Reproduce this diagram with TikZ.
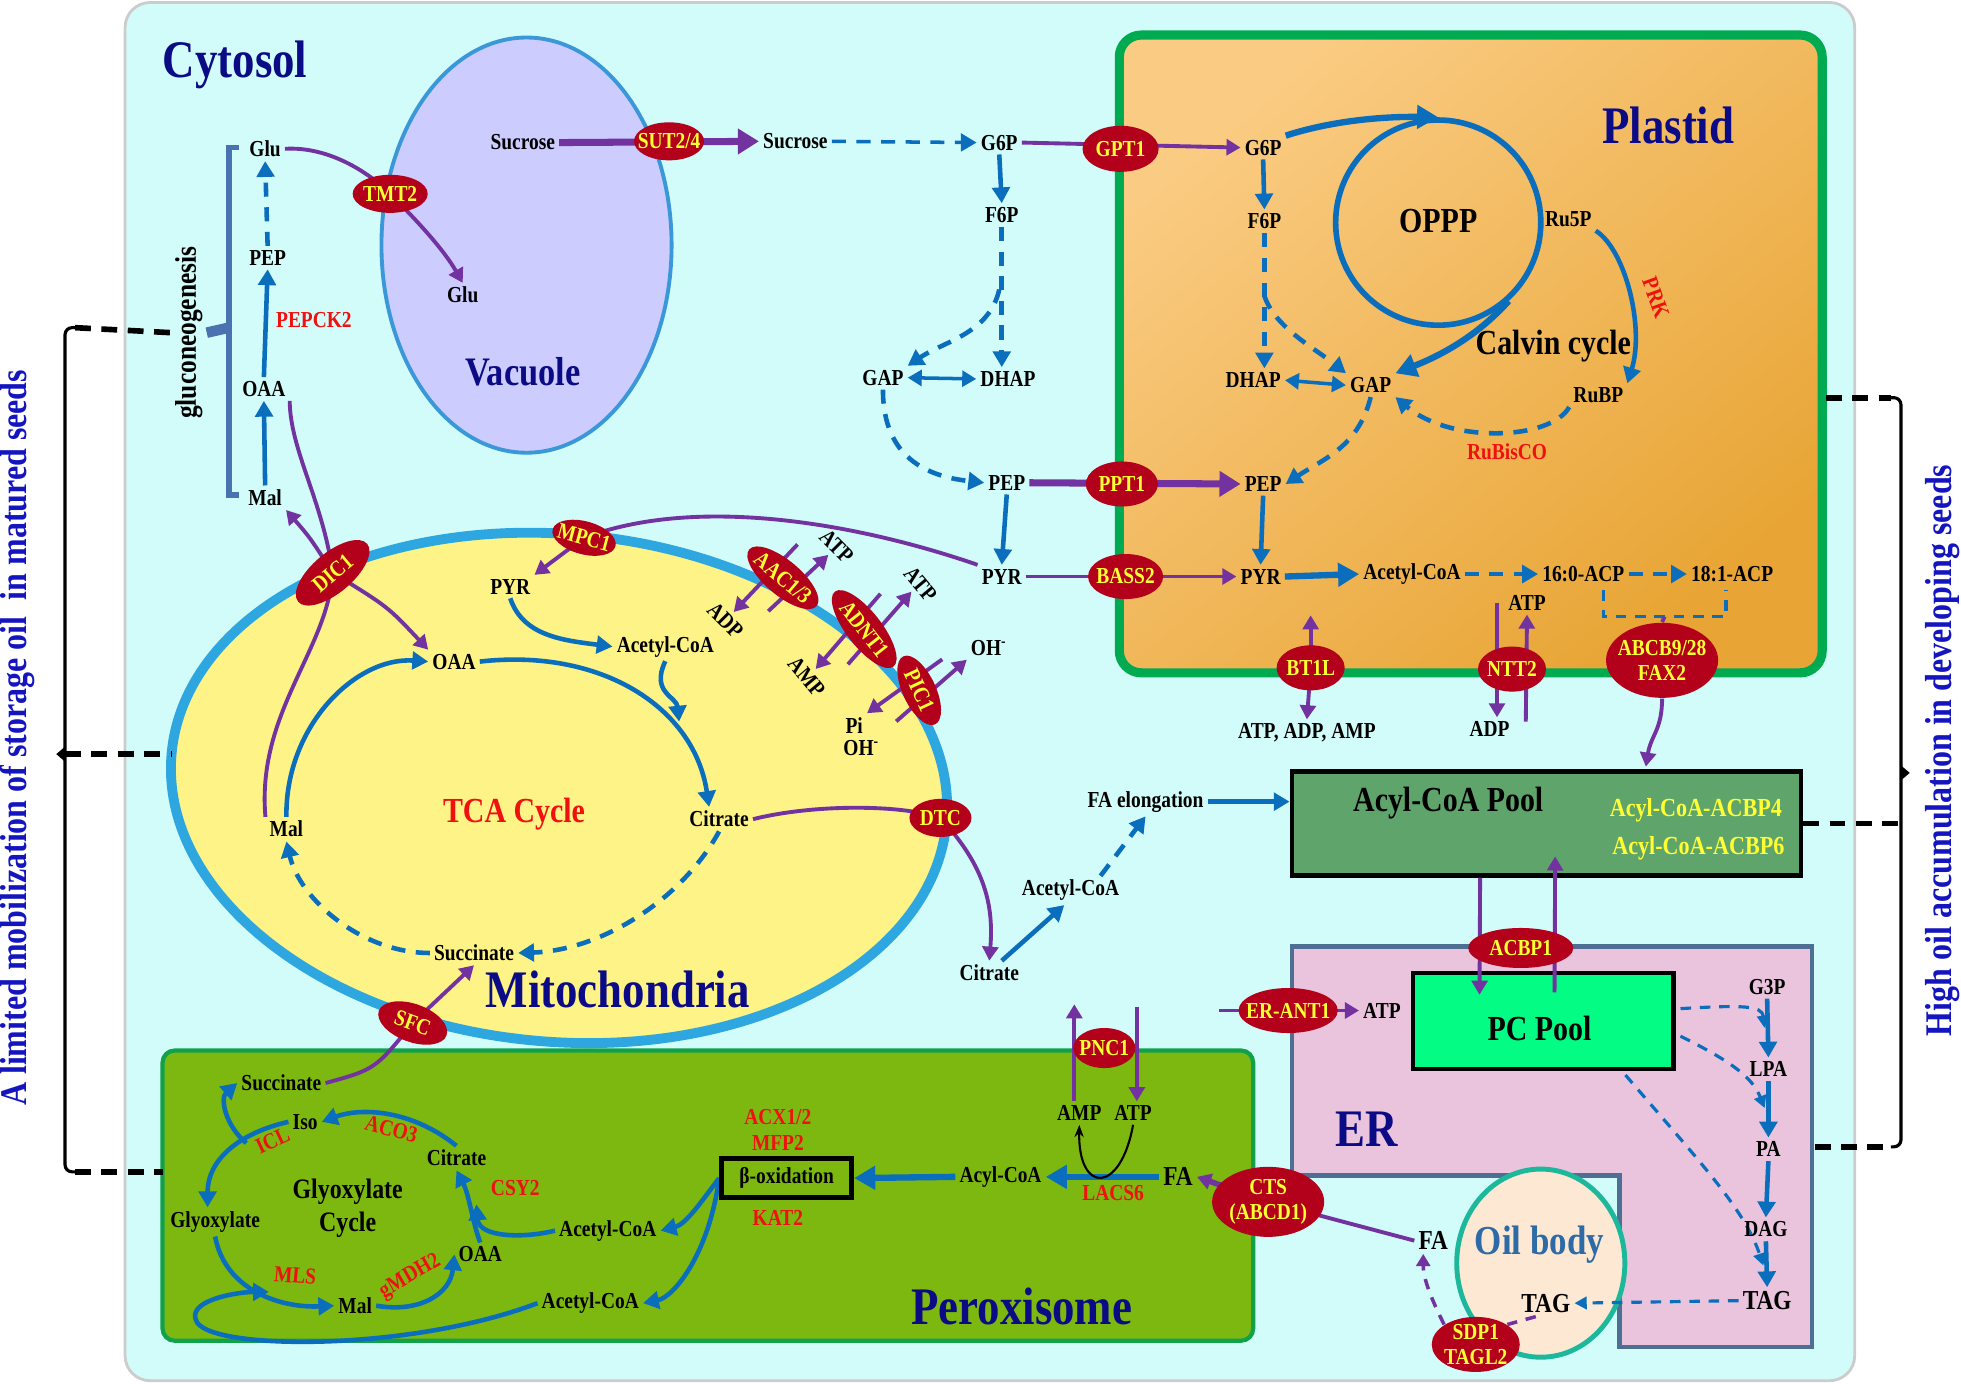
\documentclass[tikz,border=0pt]{standalone}
\usepackage{fontspec}
\setmainfont{Liberation Serif}[FakeStretch=0.85]
\usetikzlibrary{arrows.meta,shapes.geometric,calc}
\pgfdeclarelayer{back}
\pgfdeclarelayer{mid}
\pgfsetlayers{back,mid,main}

\definecolor{cytobg}{HTML}{D2FCFA}
\definecolor{vacfill}{HTML}{CCCCFF}
\definecolor{vacedge}{HTML}{3A98D8}
\definecolor{mitofill}{HTML}{FEF386}
\definecolor{mitoedge}{HTML}{2EA7E0}
\definecolor{plasA}{HTML}{FACB82}
\definecolor{plasB}{HTML}{E8A535}
\definecolor{plasedge}{HTML}{00AA50}
\definecolor{perfill}{HTML}{7CB80F}
\definecolor{peredge}{HTML}{12A14B}
\definecolor{acylfill}{HTML}{5FA56B}
\definecolor{pcfill}{HTML}{03FC84}
\definecolor{erfill}{HTML}{EAC4DC}
\definecolor{eredge}{HTML}{4E6E93}
\definecolor{oilfill}{HTML}{FDE9D3}
\definecolor{oiledge}{HTML}{1DB79B}
\definecolor{oiltext}{HTML}{2D6AA6}
\definecolor{enzred}{HTML}{B3001B}
\definecolor{enzyel}{HTML}{FFFF33}
\definecolor{arrblue}{HTML}{0A6EBD}
\definecolor{arrpur}{HTML}{7232A0}
\definecolor{navy}{HTML}{0B0B85}
\definecolor{sideblue}{HTML}{1515C0}
\definecolor{glucol}{HTML}{4A72B0}
\definecolor{redtxt}{HTML}{F01010}

\tikzstyle{metab} = [
  font=\fontsize{6.5}{7}\selectfont\bfseries,
  inner sep=1pt,
]
\tikzstyle{bigmetab} = [
  metab,
  font=\fontsize{7.8}{8}\selectfont\bfseries,
]
\tikzstyle{enzname} = [
  metab,
  text=redtxt,
]
\tikzstyle{enzyme} = [
  ellipse,
  fill=enzred,
  text=enzyel,
  font=\fontsize{6.5}{7}\selectfont\bfseries,
  align=center,
  inner xsep=-2pt,
  inner ysep=-1pt,
  minimum width=0.72cm,
  minimum height=0.42cm,
]
\tikzstyle{comptitle} = [
  text=navy,
  font=\fontsize{15}{16}\selectfont\bfseries,
]
\tikzstyle{subtitle} = [
  font=\fontsize{10}{11}\selectfont\bfseries,
]
\tikzstyle{sidetext} = [
  text=sideblue,
  font=\fontsize{10.7}{11}\selectfont\bfseries,
  rotate=90,
]
\tikzstyle{poolbox} = [
  draw=black,
  line width=1.2pt,
  rectangle,
]
\tikzstyle{cyc} = [
  circle,
  draw=arrblue,
  line width=1.6pt,
  minimum size=2.05cm,
]
\tikzstyle{oilbody} = [
  ellipse,
  draw=oiledge,
  fill=oilfill,
  line width=1.4pt,
  minimum width=1.68cm,
  minimum height=1.88cm,
]
\tikzstyle{flux} = [
  draw=arrblue,
  line width=1.3pt,
  -{Triangle[length=4.5pt,width=5pt]},
]
\tikzstyle{bigflux} = [
  draw=arrblue,
  line width=1.8pt,
  -{Triangle[length=6pt,width=6.5pt]},
]
\tikzstyle{dashflux} = [
  flux,
  dash pattern=on 4pt off 3pt,
]
\tikzstyle{thinflux} = [
  draw=arrblue,
  line width=0.9pt,
  dash pattern=on 3pt off 2.5pt,
  -{Triangle[length=3.5pt,width=3.5pt]},
]
\tikzstyle{interconv} = [
  draw=arrblue,
  line width=1pt,
  {Triangle[length=4pt,width=4.5pt]}-{Triangle[length=4pt,width=4.5pt]},
]
\tikzstyle{carrier} = [
  draw=arrpur,
  line width=1.1pt,
  -{Triangle[length=4pt,width=4.5pt]},
]
\tikzstyle{carrierline} = [
  draw=arrpur,
  line width=1.1pt,
]
\tikzstyle{bigcarrier} = [
  draw=arrpur,
  line width=2pt,
  -{Triangle[length=6pt,width=7pt]},
]
\tikzstyle{bracedash} = [
  draw=black,
  line width=1.6pt,
  dash pattern=on 4.5pt off 3pt,
]
\tikzstyle{braceline} = [
  draw=black,
  line width=0.9pt,
  rounded corners=2pt,
]

\begin{document}
\begin{tikzpicture}[
    x=0.0125cm,
    y=-0.0125cm,
  ]
  \useasboundingbox (0,0) rectangle (1568,1106);

  % compartments
  \begin{pgfonlayer}{back}
    \draw[fill=cytobg, draw=black!20, line width=0.8pt, rounded corners=0.25cm]
      (100,2) rectangle (1483,1104);
    \draw[fill=vacfill, draw=vacedge, line width=1.1pt]
      (421,196) ellipse [x radius=116, y radius=166];
    \draw[fill=mitofill, draw=mitoedge, line width=2.8pt, rotate around={-5:(447,630)}]
      (447,630) ellipse [x radius=311, y radius=203];
    \draw[top color=plasA, bottom color=plasB, shading angle=40, draw=plasedge,
      line width=2.6pt, rounded corners=0.22cm]
      (895,28) rectangle (1457,538);
    \draw[fill=perfill, draw=peredge, line width=1.2pt, rounded corners=0.12cm]
      (130,840) rectangle (1002,1072);
    \draw[fill=erfill, draw=eredge, line width=1.3pt]
      (1033,757) -- (1449,757) -- (1449,1077) -- (1295,1077)
      -- (1295,940) -- (1033,940) -- cycle;
    \node[poolbox, fill=acylfill, minimum width=5.09cm, minimum height=1.04cm]
      (acyl) at (1236.5,658.5) {};
    \node[poolbox, fill=pcfill, minimum width=2.6cm, minimum height=0.96cm]
      (pcpool) at (1234,816.5) {};
    \node[oilbody] (oil) at (1232,1010) {};
    \node[cyc] (opppc) at (1150,178) {};
  \end{pgfonlayer}

  % titles
  \node[comptitle] (cytlab) at (188,52) {Cytosol};
  \node[comptitle] (plaslab) at (1334,100) {Plastid};
  \node[comptitle] (mitolab) at (494,791) {Mitochondria};
  \node[comptitle] (perlab) at (817,1045) {Peroxisome};
  \node[comptitle] (erlab) at (1093,903) {ER};
  \node[comptitle, font=\fontsize{11.5}{12}\selectfont\bfseries] (vaclab) at (418,297) {Vacuole};
  \node[text=oiltext, font=\fontsize{11.7}{12}\selectfont\bfseries] (oillab) at (1231,995) {Oil body};
  \node[sidetext] (lefttxt) at (14,590) {A limited mobilization of storage oil\ \ in matured seeds};
  \node[sidetext] (righttxt) at (1553,600) {High oil accumulation in developing seeds};

  % cytosol and vacuole
  \node[metab] (gluc) at (212,119) {Glu};
  \node[metab] (pepg) at (214,206) {PEP};
  \node[metab] (oaac) at (211,311) {OAA};
  \node[metab] (malc) at (212,398) {Mal};
  \node[enzname] (pepck) at (251,256) {PEPCK2};
  \node[metab, rotate=90, font=\fontsize{8.5}{9}\selectfont\bfseries] (gng) at (151,266) {gluconeogenesis};
  \node[metab] (sucv) at (418,114) {Sucrose};
  \node[enzyme, minimum width=0.7cm, minimum height=0.38cm] (sut) at (535,113) {SUT2/4};
  \node[metab] (succ) at (636,113) {Sucrose};
  \node[metab] (gluv) at (370,236) {Glu};
  \node[enzyme, minimum width=0.75cm, minimum height=0.38cm] (tmt) at (312,155) {TMT2};
  \node[metab] (g6pc) at (799,114) {G6P};
  \node[metab] (f6pc) at (801,172) {F6P};
  \node[metab] (gapc) at (706,302) {GAP};
  \node[metab] (dhapc) at (806,303) {DHAP};
  \node[metab] (pepc) at (805,386) {PEP};
  \node[metab] (pyrc) at (801,461) {PYR};

  % plastid
  \node[enzyme, minimum width=0.76cm, minimum height=0.46cm] (gpt) at (896,119) {GPT1};
  \node[metab] (g6pp) at (1010,118) {G6P};
  \node[metab] (f6pp) at (1011,177) {F6P};
  \node[subtitle] (oppp) at (1150,177) {OPPP};
  \node[metab] (ru5p) at (1254,175) {Ru5P};
  \node[enzname, rotate=-70] (prk) at (1324,238) {PRK};
  \node[subtitle] (calvin) at (1242,277) {Calvin cycle};
  \node[metab] (dhapp) at (1002,304) {DHAP};
  \node[metab] (gapp) at (1096,308) {GAP};
  \node[metab] (rubp) at (1278,316) {RuBP};
  \node[enzname] (rubisco) at (1205,361) {RuBisCO};
  \node[enzyme, minimum width=0.72cm, minimum height=0.45cm] (ppt) at (897,387) {PPT1};
  \node[metab] (pepp) at (1010,387) {PEP};
  \node[enzyme, minimum width=0.75cm, minimum height=0.45cm] (bass) at (900,461) {BASS2};
  \node[metab] (pyrp) at (1008,461) {PYR};
  \node[metab] (acoap) at (1129,459) {Acetyl-CoA};
  \node[metab] (acp16) at (1266,459) {16:0-ACP};
  \node[metab] (acp18) at (1385,459) {18:1-ACP};
  \node[enzyme, minimum width=0.68cm, minimum height=0.45cm] (bt1l) at (1048,534) {BT1L};
  \node[metab] (adenyl) at (1045,586) {ATP, ADP, AMP};
  \node[enzyme, minimum width=0.68cm, minimum height=0.45cm] (ntt) at (1209,535) {NTT2};
  \node[metab] (atpn) at (1221,482) {ATP};
  \node[metab] (adpn) at (1191,583) {ADP};
  \node[enzyme, minimum width=1.12cm, minimum height=0.75cm] (abcb) at (1329,528) {ABCB9/28\\FAX2};

  % mitochondria
  \node[enzyme, rotate=-15, minimum width=0.65cm, minimum height=0.33cm] (mpc) at (467,430) {MPC1};
  \node[enzyme, rotate=40, minimum width=0.9cm, minimum height=0.4cm] (dic) at (266,458) {DIC1};
  \node[metab] (pyrm) at (408,469) {PYR};
  \node[metab] (acoam) at (532,517) {Acetyl-CoA};
  \node[metab] (oaam) at (363,529) {OAA};
  \node[metab] (malm) at (229,663) {Mal};
  \node[subtitle, text=redtxt] (tca) at (411,651) {TCA Cycle};
  \node[metab] (citm) at (575,655) {Citrate};
  \node[metab] (sucm) at (379,762) {Succinate};
  \node[enzyme, rotate=-20, minimum width=0.72cm, minimum height=0.38cm] (sfc) at (330,818) {SFC};
  \node[enzyme, rotate=-40, minimum width=0.88cm, minimum height=0.35cm] (aac) at (626,462) {AAC1/3};
  \node[metab, rotate=-45] (atpa) at (669,437) {ATP};
  \node[metab, rotate=-45] (adpa) at (580,496) {ADP};
  \node[enzyme, rotate=-52, minimum width=0.95cm, minimum height=0.35cm] (adnt) at (691,503) {ADNT1};
  \node[metab, rotate=-50] (atpb) at (736,467) {ATP};
  \node[metab, rotate=-50] (ampb) at (645,541) {AMP};
  \node[enzyme, rotate=-65, minimum width=0.75cm, minimum height=0.33cm] (pic) at (735,552) {PIC1};
  \node[metab] (ohout) at (791,518) {OH\textsuperscript{-}};
  \node[metab] (pii) at (683,580) {Pi};
  \node[metab] (ohin) at (689,598) {OH\textsuperscript{-}};
  \node[enzyme, minimum width=0.62cm, minimum height=0.38cm] (dtc) at (752,654) {DTC};
  \node[metab] (citc) at (791,778) {Citrate};
  \node[metab] (acoac) at (856,712) {Acetyl-CoA};
  \node[metab] (fael) at (916,641) {FA elongation};

  % acyl-CoA pool and ER
  \node[subtitle] (acyllab) at (1158,642) {Acyl-CoA Pool};
  \node[metab, text=enzyel, font=\fontsize{7.4}{8}\selectfont\bfseries] (acbp4) at (1356,648) {Acyl-CoA-ACBP4};
  \node[metab, text=enzyel, font=\fontsize{7.4}{8}\selectfont\bfseries] (acbp6) at (1358,678) {Acyl-CoA-ACBP6};
  \node[subtitle] (pclab) at (1231,822) {PC Pool};
  \node[enzyme, minimum width=1.05cm, minimum height=0.4cm] (acbp) at (1216,758) {ACBP1};
  \node[enzyme, minimum width=0.9cm, minimum height=0.45cm] (erant) at (1030,808) {ER-ANT1};
  \node[metab] (atper) at (1105,808) {ATP};
  \node[metab] (g3p) at (1413,789) {G3P};
  \node[metab] (lpa) at (1414,855) {LPA};
  \node[metab] (pa) at (1414,919) {PA};
  \node[metab] (dag) at (1412,983) {DAG};
  \node[bigmetab] (tager) at (1413,1040) {TAG};
  \node[bigmetab] (tagoil) at (1236,1042) {TAG};
  \node[bigmetab] (faoil) at (1146,992) {FA};
  \node[enzyme, minimum width=0.88cm, minimum height=0.55cm] (sdp) at (1180,1075) {SDP1\\TAGL2};
  \node[enzyme, minimum width=1.12cm, minimum height=0.7cm] (cts) at (1014,961) {CTS\\(ABCD1)};

  % peroxisome
  \node[bigmetab] (faper) at (942,941) {FA};
  \node[metab] (acylper) at (800,941) {Acyl-CoA};
  \node[enzname] (lacs) at (890,954) {LACS6};
  \node[metab] (ampp) at (863,890) {AMP};
  \node[metab] (atpp) at (906,890) {ATP};
  \node[enzyme, minimum width=0.62cm, minimum height=0.4cm] (pnc) at (883,838) {PNC1};
  \node[metab, draw=black, line width=1.4pt, minimum width=1.3cm, minimum height=0.39cm] (beta) at (629,942) {β-oxidation};
  \node[enzname] (acx) at (622,893) {ACX1/2};
  \node[enzname] (mfp) at (622,914) {MFP2};
  \node[enzname] (kat) at (622,974) {KAT2};
  \node[metab] (acoa1) at (486,984) {Acetyl-CoA};
  \node[metab] (acoa2) at (472,1042) {Acetyl-CoA};
  \node[metab] (sucp) at (225,866) {Succinate};
  \node[metab] (iso) at (244,897) {Iso};
  \node[metab] (citp) at (365,926) {Citrate};
  \node[metab] (glyox) at (172,977) {Glyoxylate};
  \node[metab] (malp) at (284,1044) {Mal};
  \node[metab] (oaap) at (384,1003) {OAA};
  \node[align=center, font=\fontsize{8}{9.5}\selectfont\bfseries] (glycyc) at (278,966) {Glyoxylate\\Cycle};
  \node[enzname, rotate=25] (icl) at (218,912) {ICL};
  \node[enzname, rotate=-15] (aco) at (313,903) {ACO3};
  \node[enzname] (csy) at (412,950) {CSY2};
  \node[enzname, rotate=-5] (mls) at (236,1020) {MLS};
  \node[enzname, rotate=30] (mdh) at (328,1021) {gMDH2};

  % free ends
  \coordinate (gngmid) at (183,262);
  \coordinate (mitoleft) at (137,603);
  \coordinate (bt1top) at (1048,492);
  \coordinate (nttin) at (1197,482);
  \coordinate (nttout) at (1220,577);
  \coordinate (acpl) at (1282,472);
  \coordinate (acpr) at (1380,472);
  \coordinate (acpmid) at (1331,493);
  \coordinate (abcbin) at (1316,613);
  \coordinate (acomerge) at (543,577);
  \coordinate (erantin) at (975,808);
  \coordinate (pncup) at (859,803);
  \coordinate (pncdn) at (909,805);
  \coordinate (k1) at (1411,822);
  \coordinate (k2) at (1411,886);
  \coordinate (k3) at (1410,1012);
  \coordinate (iclfork) at (197,914);
  \coordinate (mlsjoin) at (215,1033);
  \coordinate (csyjoin) at (381,963);

  \begin{pgfonlayer}{mid}
    % side braces
    \draw[braceline] (60,262) -- (52,262) -- (52,937) -- (60,937);
    \fill (52,597) -- (45,603) -- (52,609) -- cycle;
    \draw[bracedash] (60,262) -- (gng.north);
    \draw[bracedash] (52,603) -- (mitoleft);
    \draw[bracedash] (60,937) -- (130,937);
    \draw[braceline] (1512,318) -- (1520,318) -- (1520,917) -- (1512,917);
    \fill (1520,612) -- (1527,618) -- (1520,624) -- cycle;
    \draw[bracedash] (1460,318) -- (1512,318);
    \draw[bracedash] (acyl.east) -- (1520,658.5);
    \draw[bracedash] (1451,917) -- (1512,917);
    \draw[glucol, line width=1.6pt] (191,118) -- (183,118) -- (183,396) -- (191,396);
    \draw[glucol, line width=3pt] (gngmid) -- (gng.south);

    % cytosol
    \draw[dashflux] (pepg.north) -- (gluc.south);
    \draw[flux] (oaac.north) -- (pepg.south);
    \draw[flux] (malc.north) -- (oaac.south);
    \draw[bigcarrier] (sucv.east) -- (succ.west);
    \draw[carrier] (gluc.east) .. controls (260,117) and (292,135) .. (tmt.center)
      .. controls (335,178) and (355,200) .. (gluv.north);
    \draw[dashflux, line width=1pt] (succ.east) -- (g6pc.west);
    \draw[flux] (g6pc.south) -- (f6pc.north);
    \draw[dashflux] (f6pc.south) -- (f6pc.south |- dhapc.north);
    \draw[dashflux] ($(f6pc.south)+(-2,50)$) .. controls +(-8,35) and +(30,-20) .. (gapc.north east);
    \draw[interconv] (gapc.east) -- (dhapc.west);
    \draw[dashflux] (gapc.south) .. controls +(0,55) and +(-45,-5) .. (pepc.west);
    \draw[flux] (pepc.south) -- (pyrc.north);
    \draw[carrierline] (pyrc.north west) .. controls (690,420) and (560,395) .. (mpc.center);
    \draw[carrier] (mpc.center) -- (pyrm.north east);

    % plastid
    \draw[carrier] (g6pc.east) -- (g6pp.west);
    \draw[flux] (g6pp.south) -- (f6pp.north);
    \draw[bigflux] (g6pp.north east) .. controls (1060,98) and (1100,93) .. (opppc.north);
    \draw[bigflux] (opppc.-48) .. controls (1180,270) and (1150,285) .. (gapp.north east);
    \draw[flux] (ru5p.south east) .. controls (1300,200) and (1315,262) .. (rubp.north east);
    \draw[dashflux] (rubp.south west) .. controls (1240,352) and (1160,355) .. (gapp.south east);
    \draw[dashflux] (f6pp.south) -- (f6pp.south |- dhapp.north);
    \draw[dashflux] ($(f6pp.south)+(0,50)$) .. controls +(8,25) and +(-25,-20) .. (gapp.north west);
    \draw[interconv] (dhapp.east) -- (gapp.west);
    \draw[dashflux] (gapp.south) .. controls +(-10,40) and +(30,-20) .. (pepp.east);
    \draw[bigcarrier] (pepc.east) -- (pepp.west);
    \draw[flux] (pepp.south) -- (pyrp.north);
    \draw[carrier] (pyrc.east) -- (pyrp.west);
    \draw[bigflux] (pyrp.east) -- (acoap.west);
    \draw[dashflux] (acoap.east) -- (acp16.west);
    \draw[dashflux] (acp16.east) -- (acp18.west);
    \draw[draw=arrblue, line width=1pt, dash pattern=on 3pt off 2.5pt]
      (acpl) -- (acpl |- acpmid) -- (acpr |- acpmid) -- (acpr);
    \draw[carrierline] (acpmid) -- (abcb.north);
    \draw[carrier] (abcb.south) .. controls +(0,25) and +(4,-25) .. (abcbin);
    \draw[carrier] (bt1l.center) -- (bt1top);
    \draw[carrier] (bt1l.center) -- (adenyl.north);
    \draw[carrier] (nttin) -- (nttin |- adpn.north);
    \draw[carrier] (nttout) -- (atpn.south);

    % mitochondria
    \draw[carrierline] (malm.north west) .. controls (205,570) and (262,520) .. (dic.center)
      .. controls (258,400) and (232,360) .. (oaac.south east);
    \draw[carrier] (dic.center) .. controls (248,430) .. (malc.south east);
    \draw[carrier] (dic.center) .. controls (310,485) .. (oaam.north west);
    \draw[flux] (pyrm.south) .. controls +(10,30) and +(-40,-5) .. (acoam.west);
    \draw[flux] (oaam.east) .. controls (480,518) and (555,565) .. ($(citm.north)+(-8,0)$);
    \draw[flux] (acoam.south) .. controls +(-12,25) and +(-2,-20) .. (acomerge);
    \draw[flux] (malm.north) .. controls (228,580) and (285,525) .. (oaam.west);
    \draw[dashflux] (citm.south) .. controls (545,720) and (480,760) .. (sucm.east);
    \draw[dashflux] (sucm.west) .. controls (290,762) and (240,720) .. (malm.south);
    \draw[carrierline] (sucp.east) .. controls (300,855) .. (sfc.center);
    \draw[carrier] (sfc.center) -- (sucm.south);
    \draw[carrier] (637.7,435.3) -- (adpa.north);
    \draw[carrier] (614.3,488.7) -- (atpa.south);
    \draw[carrier] (704,474.8) -- (ampb.north);
    \draw[carrier] (678,531.2) -- (atpb.south);
    \draw[carrier] (753.4,527.2) -- (pii.north east);
    \draw[carrier] (716.6,576.8) -- (ohout.south west);
    \draw[carrierline] (citm.east) .. controls (650,643) and (720,643) .. (dtc.center);
    \draw[carrier] (dtc.center) .. controls (785,690) and (795,720) .. (citc.north);
    \draw[flux] ($(citc.north)+(10,0)$) -- ($(acoac.south)+(-5,0)$);
    \draw[dashflux] ($(acoac.north)+(24,0)$) -- (fael.south);
    \draw[flux] (fael.east) -- (fael.east -| acyl.west);

    % acyl-CoA pool, ER, oil body
    \draw[carrier] ($(acyl.south)+(-53,0)$) -- ($(pcpool.north)+(-51,19)$);
    \draw[carrier] ($(pcpool.north)+(9,17)$) -- ($(acyl.south)+(7,-17)$);
    \draw[carrier] (erantin) -- (atper.west);
    \draw[flux] (g3p.south) -- (lpa.north);
    \draw[flux] (lpa.north |- lpa.south) -- (pa.north);
    \draw[flux] (pa.south) -- (dag.north);
    \draw[flux] (dag.south) -- (tager.north);
    \draw[thinflux] ($(pcpool.east)+(4,-10)$) .. controls +(50,-3) and +(-2,-18) .. (k1);
    \draw[thinflux] ($(pcpool.east)+(4,12)$) .. controls +(40,20) and +(-10,-25) .. (k2);
    \draw[thinflux] ($(pcpool.south east)+(-40,3)$) .. controls +(60,70) and +(-15,-45) .. (k3);
    \draw[thinflux] (tager.west) -- (tagoil.east);
    \draw[draw=arrpur, line width=1pt, dash pattern=on 3pt off 2.5pt]
      ($(tagoil.south)+(-8,0)$) -- (sdp.north east);
    \draw[draw=arrpur, line width=1pt, dash pattern=on 3pt off 2.5pt,
      -{Triangle[length=3.5pt,width=4pt]}]
      (sdp.north west) .. controls +(-10,-20) and +(0,20) .. ($(faoil.south)+(-8,0)$);
    \draw[carrierline] (faoil.west) -- (cts.center);
    \draw[carrier, line width=1.6pt] (cts.center) -- (faper.east);

    % peroxisome
    \draw[bigflux] (faper.west) -- (acylper.east);
    \draw[line width=0.6pt, -{Stealth[length=3.5pt]}]
      (atpp.south) .. controls (896,955) and (862,955) .. (ampp.south);
    \draw[carrier] (ampp.north -| pncup) -- (pncup);
    \draw[carrier] (pncdn) -- (pncdn |- atpp.north);
    \draw[bigflux] (acylper.west) -- (beta.east);
    \draw[flux] (beta.west) .. controls +(-15,20) and +(20,-5) .. (acoa1.east);
    \draw[flux] (beta.west) .. controls +(-8,60) and +(25,-5) .. (acoa2.east);
    \draw[flux] (citp.north) .. controls (330,888) and (290,885) .. (iso.east);
    \draw[flux] (iso.west) .. controls (195,905) and (166,925) .. ($(glyox.north)+(-6,0)$);
    \draw[flux] (iclfork) .. controls (180,900) and (176,878) .. (sucp.west);
    \draw[flux] (glyox.south) .. controls (180,1032) and (225,1046) .. (malp.west);
    \draw[flux] (acoa2.west) .. controls (330,1080) and (175,1080) .. (158,1058)
      .. controls (146,1040) and (190,1033) .. (mlsjoin);
    \draw[flux] (malp.east) .. controls (335,1050) and (360,1035) .. (oaap.west);
    \draw[flux] (oaap.north) .. controls (378,978) and (375,955) .. (citp.south);
    \draw[flux] (acoa1.west) .. controls (420,990) and (383,990) .. (csyjoin);
  \end{pgfonlayer}
\end{tikzpicture}
\end{document}
